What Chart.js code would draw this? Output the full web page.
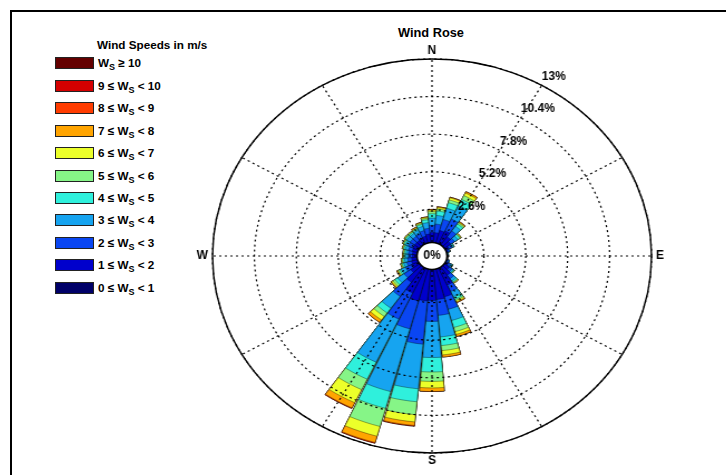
<!DOCTYPE html>
<html lang="en">
<head>
<meta charset="utf-8">
<title>Wind Rose</title>
<script src="https://cdn.jsdelivr.net/npm/chart.js@4.4.1/dist/chart.umd.min.js"></script>
<style>
  html, body { margin: 0; padding: 0; background: #fff; }
  body { position: relative; width: 726px; height: 475px; overflow: hidden;
         font-family: "Liberation Sans", Arial, sans-serif; color: #000; }
  #frame { position: absolute; left: 10px; top: 10px; right: 0; bottom: 0;
           border-top: 2px solid #000; border-left: 2px solid #000; }
  #title { position: absolute; left: 360px; width: 142px; top: 25px; text-align: center;
           font-size: 12.8px; font-weight: bold; line-height: 15px; }
  #legend-title { position: absolute; left: 97px; top: 37px; font-size: 11.7px; font-weight: bold; line-height: 15px; }
  .leg-item { position: absolute; left: 55px; height: 15px; font-size: 11.7px; font-weight: bold; line-height: 15px; white-space: nowrap; }
  .leg-box { position: absolute; left: 0; top: 2px; width: 37px; height: 10px; border: 1px solid #222; }
  .leg-text { position: absolute; left: 43px; top: 0; }
  .leg-text sub { font-size: 9px; vertical-align: -3px; line-height: 0; }
  #rose { position: absolute; left: 202px; top: 36px; transform: scaleX(1.1142); transform-origin: 230px 220px; }
</style>
</head>
<body>
<div id="frame"></div>
<div id="title">Wind Rose</div>
<div id="legend-title">Wind Speeds in m/s</div>
<div id="legend"></div>
<canvas id="rose" width="460" height="440"></canvas>

<script>
// =======================
// Data (frequency in % per direction, one array per speed bin)
// =======================
const directions = [0, 10, 20, 30, 40, 50, 60, 70, 80, 90, 100, 110, 120, 130, 140, 150, 160, 170,
                    180, 190, 200, 210, 220, 230, 240, 250, 260, 270, 280, 290, 300, 310, 320, 330, 340, 350];

const freq0to1 = [0.2,0.2,0.2,0.2,0.2,0.2,0.2,0.15,0.15,0.15, 0.15,0.15,0.2,0.2,0.2,0.3,0.3,0.3,0.3,0.3,
                  0.3,0.25,0.2,0.2,0.2,0.2,0.2,0.2,0.2,0.2, 0.2,0.2,0.2,0.2,0.2,0.2];
const freq1to2 = [0.8,0.8,1.0,1.1,0.8,0.6,0.35,0.25,0.15,0.15, 0.15,0.2,0.3,0.5,0.8,1.3,2.0,2.1,2.15,2.2,
                  2.3,1.95,1.4,0.8,0.6,0.5,0.45,0.4,0.4,0.45, 0.5,0.5,0.5,0.55,0.6,0.7];
const freq2to3 = [0.5,0.6,0.8,0.9,0.5,0.3,0.2,0.1,0.05,0.05, 0.05,0.1,0.15,0.2,0.3,0.5,0.9,1.1,1.45,3.0,
                  2.0,2.0,1.2,0.5,0.4,0.3,0.25,0.25,0.25,0.25, 0.3,0.35,0.35,0.35,0.4,0.4];
const freq3to4 = [0.5,0.6,0.8,1.0,0.4,0.25,0.1,0.05,0.05,0, 0,0.05,0.1,0.1,0.2,0.4,0.8,1.5,2.5,3.1,
                  4.5,3.3,1.0,0.5,0.3,0.2,0.2,0.15,0.15,0.2, 0.2,0.25,0.25,0.25,0.3,0.4];
const freq4to5 = [0.3,0.3,0.4,0.5,0.2,0.15,0.05,0,0,0, 0,0,0.05,0.05,0.1,0.2,0.5,0.6,1.0,0.9,
                  1.2,1.3,0.4,0.2,0.1,0.1,0.1,0.1,0.1,0.1, 0.1,0.1,0.1,0.1,0.15,0.2];
const freq5to6 = [0.15,0.15,0.2,0.3,0.1,0.05,0,0,0,0, 0,0,0,0.05,0.05,0.1,0.3,0.35,0.65,0.9,
                  1.3,0.8,0.3,0.15,0.1,0.05,0.05,0.05,0.05,0.05, 0.05,0.05,0.05,0.05,0.07,0.1];
const freq6to7 = [0.1,0.1,0.15,0.2,0.05,0.05,0,0,0,0, 0,0,0,0,0.05,0.1,0.2,0.3,0.45,0.5,
                  0.7,1.0,0.3,0.1,0.05,0.05,0.05,0.05,0.05,0.05, 0.05,0.05,0.05,0.05,0.06,0.07];
const freq7to8 = [0.05,0.05,0.05,0.1,0.05,0,0,0,0,0, 0,0,0,0,0,0.05,0.15,0.15,0.25,0.25,
                  0.45,0.4,0.2,0.05,0.05,0,0,0,0,0, 0,0,0,0.05,0.02,0.03];
const freq8to9 = [0,0,0,0,0,0,0,0,0,0, 0,0,0,0,0,0,0,0,0,0.05,
                  0.05,0.04,0,0,0,0,0,0,0,0, 0,0,0,0,0,0];
const freq9to10 = [0,0,0,0,0,0,0,0,0,0, 0,0,0,0,0,0,0,0,0,0,
                   0,0,0,0,0,0,0,0,0,0, 0,0,0,0,0,0];
const freq10plus = [0,0,0,0,0,0,0,0,0,0, 0,0,0,0,0,0,0,0,0,0,
                    0,0,0,0,0,0,0,0,0,0, 0,0,0,0,0,0];

const speedLabels = ['0 ≤ W_S < 1', '1 ≤ W_S < 2', '2 ≤ W_S < 3', '3 ≤ W_S < 4', '4 ≤ W_S < 5', '5 ≤ W_S < 6',
                     '6 ≤ W_S < 7', '7 ≤ W_S < 8', '8 ≤ W_S < 9', '9 ≤ W_S < 10', 'W_S ≥ 10'];
const binColors = ['#000068', '#0000cc', '#0a46f2', '#16a4f0', '#2ff0dc', '#86f587',
                   '#ecff2a', '#ffa400', '#ff3c00', '#d40000', '#640000'];

const ringTicks = [2.6, 5.2, 7.8, 10.4, 13];
const compassLabels = ['N', 'E', 'S', 'W'];
const compassAngles = [0, 90, 180, 270];

// =======================
// Layout constants
// =======================
const AXIS_MIN = -0.62;      // leaves room for the 0% hole
const AXIS_MAX = 13;
const WEDGE = 9.4;           // degrees drawn per direction
const GAP = 0.6;             // empty degrees between wedges
const STRETCH = 1.1142;      // canvas is widened by css, text is un-widened
const HOLE_RADIUS = 13.5;
const FONT = 'bold 12px "Liberation Sans", Arial, sans-serif';

const bins = [freq0to1, freq1to2, freq2to3, freq3to4, freq4to5, freq5to6,
              freq6to7, freq7to8, freq8to9, freq9to10, freq10plus];

// running total up to bin k, so bins can overlap like a stack
function stacked(k) {
  return directions.map((d, i) => bins.slice(0, k + 1).reduce((s, b) => s + b[i], 0));
}

// every direction is followed by an empty gap slot
function slotted(values) {
  const out = [];
  values.forEach(v => { out.push(v); out.push(AXIS_MIN); });
  return out;
}

const slotLabels = directions.flatMap(d => [d + '°', '']);

// =======================
// Legend
// =======================
const legend = document.getElementById('legend');
for (let k = bins.length - 1, row = 0; k >= 0; k--, row++) {
  const item = document.createElement('div');
  item.className = 'leg-item';
  item.style.top = (62.7 + row * 22.47 - 7.5) + 'px';
  item.innerHTML = `<div class="leg-box" style="background:${binColors[k]}"></div>
    <span class="leg-text">${speedLabels[k].replace('W_S', 'W<sub>S</sub>')}</span>`;
  legend.appendChild(item);
}

// =======================
// Overlay: spokes, outer circle, hole and labels
// =======================
function drawText(ctx, text, x, y, align, baseline) {
  ctx.save();
  ctx.translate(x, y);
  ctx.scale(1 / STRETCH, 1);
  ctx.textAlign = align;
  ctx.textBaseline = baseline;
  ctx.fillText(text, 0, 0);
  ctx.restore();
}

const roseOverlay = {
  id: 'roseOverlay',
  afterDraw(chart) {
    const scale = chart.scales.r;
    const ctx = chart.ctx;
    const cx = scale.xCenter, cy = scale.yCenter;
    const rOuter = scale.getDistanceFromCenterForValue(AXIS_MAX);
    const rZero = scale.getDistanceFromCenterForValue(0);

    ctx.save();
    ctx.strokeStyle = '#000';
    ctx.lineWidth = 1.2;
    ctx.setLineDash([2, 3]);
    for (let a = 0; a < 360; a += 30) {
      const t = a * Math.PI / 180;
      ctx.beginPath();
      ctx.moveTo(cx + Math.sin(t) * rZero, cy - Math.cos(t) * rZero);
      ctx.lineTo(cx + Math.sin(t) * rOuter, cy - Math.cos(t) * rOuter);
      ctx.stroke();
    }

    ctx.setLineDash([]);
    ctx.lineWidth = 1.4;
    ctx.beginPath();
    ctx.arc(cx, cy, rOuter, 0, Math.PI * 2);
    ctx.stroke();

    ctx.fillStyle = '#fff';
    ctx.lineWidth = 1.6;
    ctx.beginPath();
    ctx.arc(cx, cy, HOLE_RADIUS, 0, Math.PI * 2);
    ctx.fill();
    ctx.stroke();

    ctx.fillStyle = '#000';
    ctx.font = FONT;
    drawText(ctx, '0%', cx, cy, 'center', 'middle');

    // ring labels along the 30 degree spoke
    const t30 = 30 * Math.PI / 180;
    ringTicks.forEach(v => {
      const d = scale.getDistanceFromCenterForValue(v);
      drawText(ctx, v + '%', cx + Math.sin(t30) * d, cy - Math.cos(t30) * d - 3, 'left', 'bottom');
    });

    compassLabels.forEach((lab, i) => {
      const t = compassAngles[i] * Math.PI / 180;
      const sx = Math.round(Math.sin(t)), sy = Math.round(Math.cos(t));
      if (sx === 0) {
        drawText(ctx, lab, cx, cy - sy * (rOuter + 8), 'center', 'middle');
      } else {
        drawText(ctx, lab, cx + sx * (rOuter + 4), cy, sx > 0 ? 'left' : 'right', 'middle');
      }
    });
    ctx.restore();
  }
};

// =======================
// Chart
// =======================
const datasets = bins.map((b, k) => ({
  label: speedLabels[k],
  data: slotted(stacked(k)),
  backgroundColor: c => c.dataIndex % 2 ? 'rgba(0,0,0,0)' : binColors[k],
  borderColor: 'rgba(0,0,0,0.5)',
  borderWidth: c => c.dataIndex % 2 ? 0 : 0.7,
  angle: c => c.dataIndex % 2 ? GAP : WEDGE
}));

new Chart(document.getElementById('rose'), {
  type: 'polarArea',
  data: { labels: slotLabels, datasets: datasets },
  options: {
    responsive: false,
    animation: false,
    events: [],
    layout: { padding: { left: 33, right: 33, top: 23, bottom: 23 } },
    plugins: { legend: { display: false }, tooltip: { enabled: false } },
    scales: {
      r: {
        min: AXIS_MIN,
        max: AXIS_MAX,
        startAngle: -WEDGE / 2,
        ticks: { display: false },
        afterBuildTicks: scale => { scale.ticks = ringTicks.map(v => ({ value: v })); },
        grid: { z: 1, color: '#000', lineWidth: 1.2, borderDash: [2, 3] },
        border: { dash: [2, 3] },
        angleLines: { display: false },
        pointLabels: { display: false }
      }
    }
  },
  plugins: [roseOverlay]
});
</script>
</body>
</html>
